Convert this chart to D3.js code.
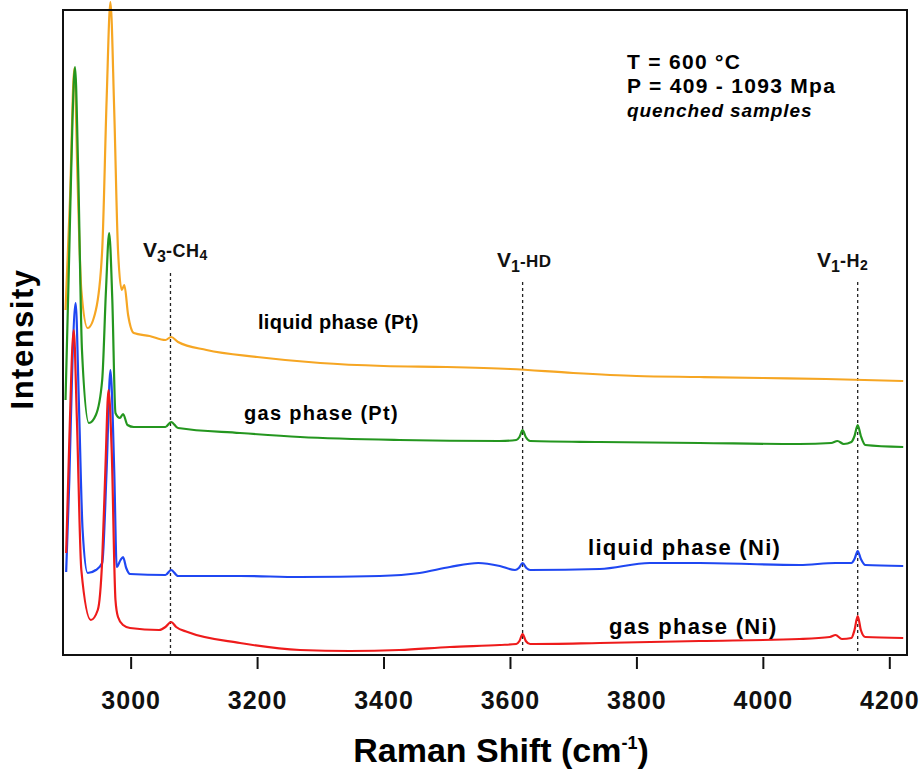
<!DOCTYPE html>
<html>
<meta charset="utf-8">
<title>Raman spectra</title>
<style>
  body { margin: 0; background: #fff; font-family: "Liberation Sans", Arial, sans-serif; }
  .frame { fill: none; stroke: #111; stroke-width: 2; }
  .axis path { display: none; }
  .axis line { stroke: #111; stroke-width: 2; }
  .axis text { font-size: 25px; font-weight: bold; fill: #111; letter-spacing: 1px; }
  .spec { fill: none; stroke-width: 2.2; stroke-linejoin: round; }
  .mark { stroke: #222; stroke-width: 1.3; stroke-dasharray: 3,3; }
</style>
<script src="https://cdn.jsdelivr.net/npm/d3@7"></script>
<body>
<script>
  // spectra, intensity in arbitrary units (stacked offsets included)
  var goldShift = [2897,2904,2911,2916,2922,2932,2945,2955,2962,2968,2974,2980,2986,2990,2996,3005,3030,3055,3064,3075,3120,3200,3300,3400,3500,3600,3700,3800,3900,4000,4100,4222];
  var goldInt   = [345,455,587,475,365,327,345,405,555,653,545,405,365,370,340,322,319,315,318,313,305,298,292,289,288,286,282,279,278,277,276,274];

  var greenShift = [2897,2903,2908,2912,2917,2923,2934,2945,2955,2961,2966,2971,2976,2983,2988,2995,3005,3055,3064,3075,3173,3268,3425,3584,3610,3615,3620,3625,3632,3742,3900,4058,4108,4118,4128,4140,4145,4150,4155,4162,4222];
  var greenInt   = [255,405,535,588,485,305,232,240,275,365,422,355,242,237,241,230,228,228,233,227,222,218,215,214,215,218,225,218,214,213,212,211,212,214,211,213,219,230,219,210,208];

  var blueShift = [2898,2903,2908,2913,2918,2924,2932,2945,2955,2962,2968,2974,2978,2984,2988,2993,2999,3055,3064,3075,3173,3268,3394,3457,3505,3550,3584,3608,3614,3620,3626,3632,3742,3821,3900,4058,4115,4140,4145,4150,4155,4162,4222];
  var blueInt   = [83,175,295,352,255,125,82,85,92,185,285,185,88,95,98,87,81,80,85,79,79,78,79,82,88,92,89,85,87,92,87,85,86,92,92,90,92,92,96,104,96,90,89];

  var redShift = [2898,2903,2910,2915,2922,2937,2948,2955,2960,2965,2970,2976,2980,2988,2999,3045,3055,3064,3072,3090,3173,3268,3347,3425,3505,3584,3610,3615,3620,3625,3632,3742,3900,4058,4106,4115,4125,4140,4145,4150,4155,4162,4222];
  var redInt   = [102,215,325,235,85,35,45,95,185,265,205,55,38,30,27,25,28,33,28,23,12,5,4,5,8,10,11,14,21,14,11,12,14,16,18,20,16,17,25,39,25,18,17];

  var xTicks = [3000,3200,3400,3600,3800,4000,4200];
  var bandPos = [3063,3620,4150];

  var series = [
    {name: 'liquid phase (Pt)', color: '#f6a623', shift: goldShift, inten: goldInt},
    {name: 'gas phase (Pt)',    color: '#24961f', shift: greenShift, inten: greenInt},
    {name: 'liquid phase (Ni)', color: '#1f47f2', shift: blueShift, inten: blueInt},
    {name: 'gas phase (Ni)',    color: '#ee1b1b', shift: redShift, inten: redInt}
  ];

  var W = 924, H = 776;
  var margin = {left: 63, right: 907, top: 10, bottom: 655};

  var svg = d3.select('body').append('svg')
      .attr('width', W).attr('height', H);

  var x = d3.scaleLinear().domain([2893, 4228]).range([margin.left, margin.right]);
  var y = d3.scaleLinear().domain([0, 645]).range([margin.bottom, margin.top]);

  var line = d3.line()
      .x(function(d) { return x(d[0]); })
      .y(function(d) { return y(d[1]); })
      .curve(d3.curveMonotoneX);

  // dashed band markers
  var markTop = [273, 282, 282];
  svg.selectAll('.mark').data(bandPos).enter().append('line')
      .attr('class', 'mark')
      .attr('x1', function(d) { return x(d); })
      .attr('x2', function(d) { return x(d); })
      .attr('y1', function(d, i) { return markTop[i]; })
      .attr('y2', margin.bottom);

  // spectra
  series.forEach(function(s) {
    var pts = s.shift.map(function(w, i) { return [w, s.inten[i]]; });
    svg.append('path')
      .datum(pts)
      .attr('class', 'spec')
      .attr('stroke', s.color)
      .attr('d', line);
  });

  svg.append('rect').attr('class', 'frame')
      .attr('x', margin.left).attr('y', margin.top)
      .attr('width', margin.right - margin.left).attr('height', margin.bottom - margin.top);

  var xAxis = d3.axisBottom(x).tickValues(xTicks).tickSize(12).tickPadding(22).tickFormat(d3.format('d'));
  svg.append('g')
      .attr('class', 'x axis')
      .attr('transform', 'translate(0,' + (margin.bottom + 2) + ')')
      .call(xAxis);

  // axis titles
  var xt = svg.append('text')
      .attr('x', 501).attr('y', 762)
      .style('text-anchor', 'middle')
      .style('font-size', '34px').style('font-weight', 'bold');
  xt.append('tspan').text('Raman Shift (cm');
  xt.append('tspan').attr('dy', -13).style('font-size', '18px').text('-1');
  xt.append('tspan').attr('dy', 13).text(')');

  svg.append('text')
      .attr('transform', 'translate(33,339) rotate(-90)')
      .style('text-anchor', 'middle')
      .style('font-size', '31px').style('font-weight', 'bold')
      .style('letter-spacing', '1.5px')
      .text('Intensity');

  // band labels
  var bands = [
    {x: 143, y: 257, sub: '3', rest: '-CH', sub2: '4', size: 18},
    {x: 497, y: 267, sub: '1', rest: '-HD', sub2: '', size: 17},
    {x: 817, y: 267, sub: '1', rest: '-H', sub2: '2', size: 18}
  ];
  bands.forEach(function(b) {
    var t = svg.append('text').attr('x', b.x).attr('y', b.y)
        .style('font-weight', 'bold').style('fill', '#111');
    t.append('tspan').style('font-size', '21px').text('V');
    t.append('tspan').attr('dy', 5).style('font-size', '16px').text(b.sub);
    t.append('tspan').attr('dy', -5).style('font-size', b.size + 'px').style('letter-spacing', '0.5px').text(b.rest);
    if (b.sub2) t.append('tspan').attr('dy', 3).style('font-size', '14px').text(b.sub2);
  });

  // series labels
  var labelPos = [[258, 329], [244, 420], [588, 555], [609, 634]];
  var labelSize = [20, 20, 22, 22];
  var labelSpace = [0.3, 1.3, 1.3, 1.3];
  series.forEach(function(s, i) {
    svg.append('text')
      .attr('x', labelPos[i][0]).attr('y', labelPos[i][1])
      .style('font-size', labelSize[i] + 'px')
      .style('font-weight', 'bold')
      .style('letter-spacing', labelSpace[i] + 'px')
      .text(s.name);
  });

  // conditions
  var info = svg.append('g').style('font-weight', 'bold');
  info.append('text').attr('x', 627).attr('y', 69).style('font-size', '21px').style('letter-spacing', '1.3px').text('T = 600 \u00b0C');
  info.append('text').attr('x', 627).attr('y', 93).style('font-size', '21px').style('letter-spacing', '1.3px').text('P = 409 - 1093 Mpa');
  info.append('text').attr('x', 627).attr('y', 117).style('font-size', '19px').style('letter-spacing', '0.9px')
      .style('font-style', 'italic').text('quenched samples');
</script>
</body>
</html>
